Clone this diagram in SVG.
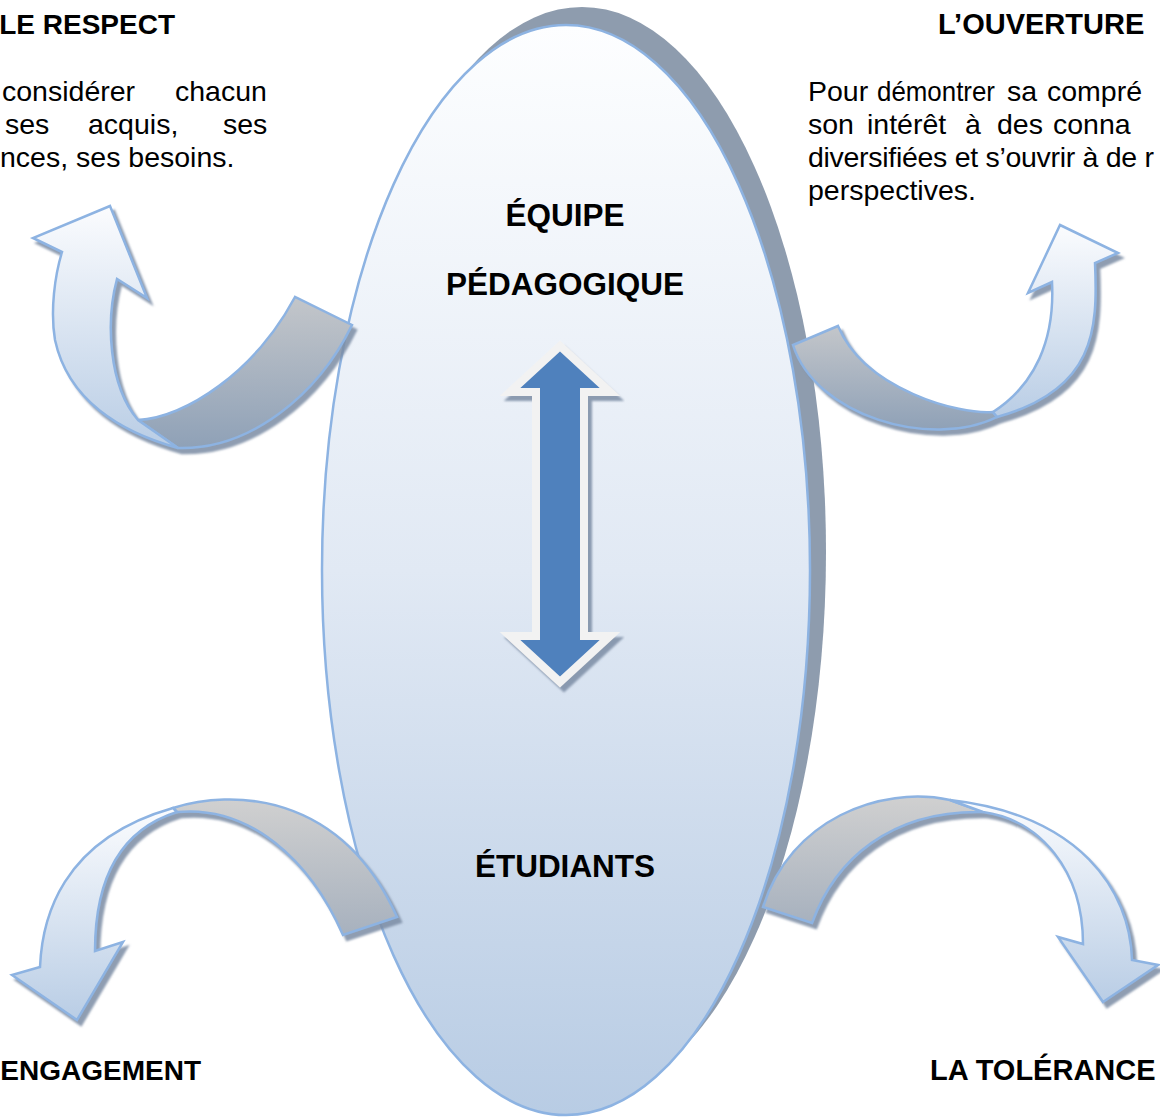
<svg xmlns="http://www.w3.org/2000/svg" width="1160" height="1117" viewBox="0 0 1160 1117">
<style>
  .h { font-family: "Liberation Sans", Arial, sans-serif; font-weight: bold; font-size: 28px; fill: #000; }
  .hr { font-family: "Liberation Sans", Arial, sans-serif; font-weight: bold; font-size: 29px; fill: #000; }
  .b { font-family: "Liberation Sans", Arial, sans-serif; font-size: 28.5px; fill: #000; }
  .c { font-family: "Liberation Sans", Arial, sans-serif; font-weight: bold; font-size: 31.5px; fill: #000; text-anchor: middle; }
  .light { fill: url(#gLight); stroke: #8db3e2; stroke-width: 2.5; stroke-linejoin: miter; }
  .greyT { fill: url(#gGreyTop); stroke: #8db3e2; stroke-width: 2.5; }
  .greyB { fill: url(#gGreyBot); stroke: #8db3e2; stroke-width: 2.5; }
</style>
<defs>
  <linearGradient id="gEll" x1="0" y1="0" x2="0" y2="1">
    <stop offset="0" stop-color="#fdfeff"/>
    <stop offset="0.5" stop-color="#e1e9f4"/>
    <stop offset="1" stop-color="#b8cce4"/>
  </linearGradient>
  <linearGradient id="gLight" x1="0" y1="0" x2="0" y2="1">
    <stop offset="0" stop-color="#fbfcfe"/>
    <stop offset="1" stop-color="#b9cde5"/>
  </linearGradient>
  <linearGradient id="gGreyTop" x1="0" y1="0" x2="0" y2="1">
    <stop offset="0" stop-color="#c3c6ca"/>
    <stop offset="1" stop-color="#8fa1b7"/>
  </linearGradient>
  <linearGradient id="gGreyBot" x1="0" y1="0" x2="0" y2="1">
    <stop offset="0" stop-color="#d0d0d0"/>
    <stop offset="1" stop-color="#a7b1be"/>
  </linearGradient>
  <filter id="sh" x="-15%" y="-15%" width="130%" height="130%">
    <feGaussianBlur in="SourceAlpha" stdDeviation="0.8" result="bl"/>
    <feOffset in="bl" dx="4" dy="5" result="off"/>
    <feFlood flood-color="#7b8ca4" flood-opacity="0.85"/>
    <feComposite in2="off" operator="in" result="shadow"/>
    <feMerge>
      <feMergeNode in="shadow"/>
      <feMergeNode in="SourceGraphic"/>
    </feMerge>
  </filter>
</defs>
<rect width="1160" height="1117" fill="#ffffff"/>

<g id="node-ellipse">
  <ellipse cx="582" cy="552" rx="244" ry="545" fill="#8e9cae"/>
  <ellipse cx="566" cy="570" rx="244" ry="545" fill="url(#gEll)" stroke="#8db3e2" stroke-width="2.5"/>
  <text class="c" x="565" y="226">ÉQUIPE</text>
  <text class="c" x="565" y="295">PÉDAGOGIQUE</text>
  <text class="c" x="565" y="877">ÉTUDIANTS</text>
</g>

<g id="connectors">
  <g id="arrow-double" filter="url(#sh)">
    <path d="M560,346 L610,392 L584,392 L584,636 L610,636 L560,682 L510,636 L536,636 L536,392 L510,392 Z" fill="#4f81bd" stroke="#f2f2f2" stroke-width="8" stroke-linejoin="miter"/>
  </g>
  <g id="arrow-respect" filter="url(#sh)">
    <path class="greyT" d="M138,420 C185,418 255,372 295,297 L352,325 C318,395 250,450 178,448 Z"/>
    <path class="light" d="M110,206 L147,298 L117,279 C106,320 108,385 138,420 L178,448 C120,432 68,400 55,340 C50,310 55,275 62,252 L33,238 Z"/>
  </g>
  <g id="arrow-ouverture" filter="url(#sh)">
    <path class="greyT" d="M993,412 C960,415 865,390 838,326 L793,345 C815,415 930,450 997,417 Z"/>
    <path class="light" d="M1060,225 L1118,253 L1095,263 C1098,330 1095,390 997,417 L993,412 C1035,385 1055,340 1052,282 L1028,293 Z"/>
  </g>
  <g id="arrow-engagement" filter="url(#sh)">
    <path class="greyB" d="M173,808 C230,790 340,790 397,917 L343,935 C310,860 250,805 177,812 Z"/>
    <path class="light" d="M77,1020 L12,975 L40,967 C42,920 60,840 173,808 L177,812 C120,830 95,880 95,951 L123,942 Z"/>
  </g>
  <g id="arrow-tolerance" filter="url(#sh)">
    <path class="greyB" d="M950,800 C880,785 790,820 763,907 L812,923 C835,860 890,810 983,812 Z"/>
    <path class="light" d="M1103,1002 L1158,965 L1132,960 C1130,890 1080,815 950,800 L983,812 C1040,820 1083,870 1083,944 L1058,937 Z"/>
  </g>
</g>

<g id="node-respect">
  <text class="h" x="175" y="34" text-anchor="end">LE RESPECT</text>
  <text class="b" y="101"><tspan x="2">considérer</tspan><tspan x="175">chacun</tspan></text>
  <text class="b" y="134"><tspan x="5">ses</tspan><tspan x="88">acquis,</tspan><tspan x="223">ses</tspan></text>
  <text class="b" x="0" y="167">nces, ses besoins.</text>
</g>

<g id="node-ouverture">
  <text class="hr" x="938" y="34">L’OUVERTURE</text>
  <text class="b" y="101"><tspan x="808">Pour</tspan><tspan x="877" textLength="118" lengthAdjust="spacingAndGlyphs">démontrer</tspan><tspan x="1007">sa</tspan><tspan x="1047">compré</tspan></text>
  <text class="b" y="134"><tspan x="808">son</tspan><tspan x="867">intérêt</tspan><tspan x="965">à</tspan><tspan x="997">des</tspan><tspan x="1053">conna</tspan></text>
  <text class="b" x="808" y="167" textLength="346" lengthAdjust="spacing">diversifiées et s’ouvrir à de r</text>
  <text class="b" x="808" y="200">perspectives.</text>
</g>

<g id="node-engagement">
  <text class="h" x="201" y="1080" text-anchor="end">ENGAGEMENT</text>
</g>

<g id="node-tolerance">
  <text class="hr" x="930" y="1080">LA TOLÉRANCE</text>
</g>
</svg>
